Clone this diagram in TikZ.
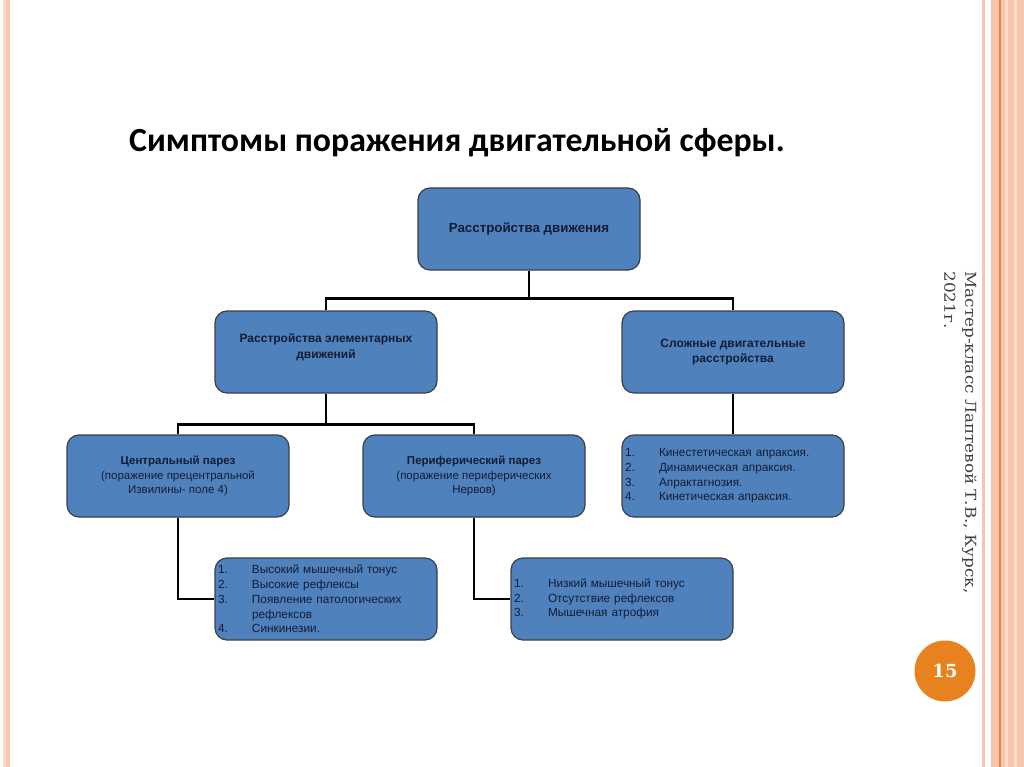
\documentclass[tikz,border=0pt]{standalone}
\usepackage{fontspec}
\setmainfont{Liberation Sans}
\newfontfamily\titlefont{Carlito}
\newfontfamily\sidefont[FakeStretch=1.12]{DejaVu Serif}
\newfontfamily\numfont{DejaVu Serif}
\usetikzlibrary{calc}
\definecolor{boxblue}{HTML}{4F81BD}
\definecolor{boxedge}{HTML}{3A3F48}
\definecolor{boxtext}{HTML}{141C34}
\definecolor{peach}{HTML}{F7C6AE}
\definecolor{peachlight}{HTML}{FBDCCB}
\definecolor{orangeline}{HTML}{E8823A}
\definecolor{circorange}{HTML}{E8821F}
\definecolor{sidegray}{HTML}{404040}
\newcommand{\itm}[2]{\makebox[34pt][l]{#1}#2\\}
\newcommand{\itmc}[1]{\hspace*{34pt}#1\\}
\tikzset{
  blockbox/.style={draw=boxedge, line width=1.2pt, fill=boxblue, rounded corners=12pt,
    minimum width=222pt, minimum height=82pt, inner sep=0pt,
    text=boxtext, align=center, font=\fontsize{11.5}{14.8}\selectfont},
  headbox/.style={blockbox, font=\bfseries\fontsize{12}{15.5}\selectfont},
  listbox/.style={blockbox, align=left, text width=216pt, inner xsep=3pt,
    font=\fontsize{11.8}{14.7}\selectfont},
  conn/.style={draw=black, line width=2.4pt}
}
\begin{document}
\begin{tikzpicture}[x=1pt,y=-1pt]
\useasboundingbox (0,0) rectangle (1024,767);
\fill[white] (0,0) rectangle (1024,767);
% decorative stripes
\fill[peachlight] (3,0) rectangle (6,767);
\fill[peach] (6,0) rectangle (9.5,767);
\fill[peach] (981.5,0) rectangle (985,767);
\fill[peach] (991,0) rectangle (1024,767);
\fill[peachlight] (1005,0) rectangle (1007.5,767);
\fill[peachlight] (1014,0) rectangle (1016.5,767);
\fill[orangeline] (998.8,0) rectangle (1000.6,767);

% title
\node[font=\titlefont\bfseries\fontsize{33.8}{40}\selectfont, text=black] (title) at (457,143) {Симптомы поражения двигательной сферы.};

% boxes
\node[headbox, font=\bfseries\fontsize{13.3}{16}\selectfont] (A) at (529,229) {Расстройства движения};
\node[headbox] (B) at (326,352) {Расстройства элементарных\\движений\\[-3.5pt]};
\node[headbox] (C) at (733,352) {Сложные двигательные\\расстройства};
\node[blockbox] (D) at (178,476) {\textbf{Центральный парез}\\(поражение прецентральной\\Извилины- поле 4)};
\node[blockbox] (E) at (474,476) {\textbf{Периферический парез}\\(поражение периферических\\Нервов)};
\node[listbox] (F) at (733,476) {\itm{1.}{Кинестетическая апраксия.}\itm{2.}{Динамическая апраксия.}\itm{3.}{Апрактагнозия.}\itm{4.}{Кинетическая апраксия.}};
\node[listbox] (G) at (326,599) {\itm{1.}{Высокий мышечный тонус}\itm{2.}{Высокие рефлексы}\itm{3.}{Появление патологических}\itmc{рефлексов}\itm{4.}{Синкинезии.}};
\node[listbox] (H) at (622,599) {\itm{1.}{Низкий мышечный тонус}\itm{2.}{Отсутствие рефлексов}\itm{3.}{Мышечная атрофия}};

% connectors
\draw[conn] (A.south) -- ++(0,28) -| (B.north);
\draw[conn] (A.south) -- ++(0,28) -| (C.north);
\draw[conn] (B.south) -- ++(0,31) -| (D.north);
\draw[conn] (B.south) -- ++(0,31) -| (E.north);
\draw[conn] (C.south) -- (F.north);
\draw[conn] (D.south) |- (G.west);
\draw[conn] (E.south) |- (H.west);

% side text
\node[rotate=-90, anchor=north west, align=left, text=sidegray,
  font=\sidefont\fontsize{15}{21}\selectfont] (side) at (980,268)
  {Мастер-класс Лаптевой Т.В., Курск,\\2021г.};

% page number
\node[circle, fill=circorange, minimum size=61pt, inner sep=0pt, text=white,
  font=\numfont\bfseries\fontsize{18}{20}\selectfont] (num) at (945,671) {15};
\end{tikzpicture}
\end{document}
